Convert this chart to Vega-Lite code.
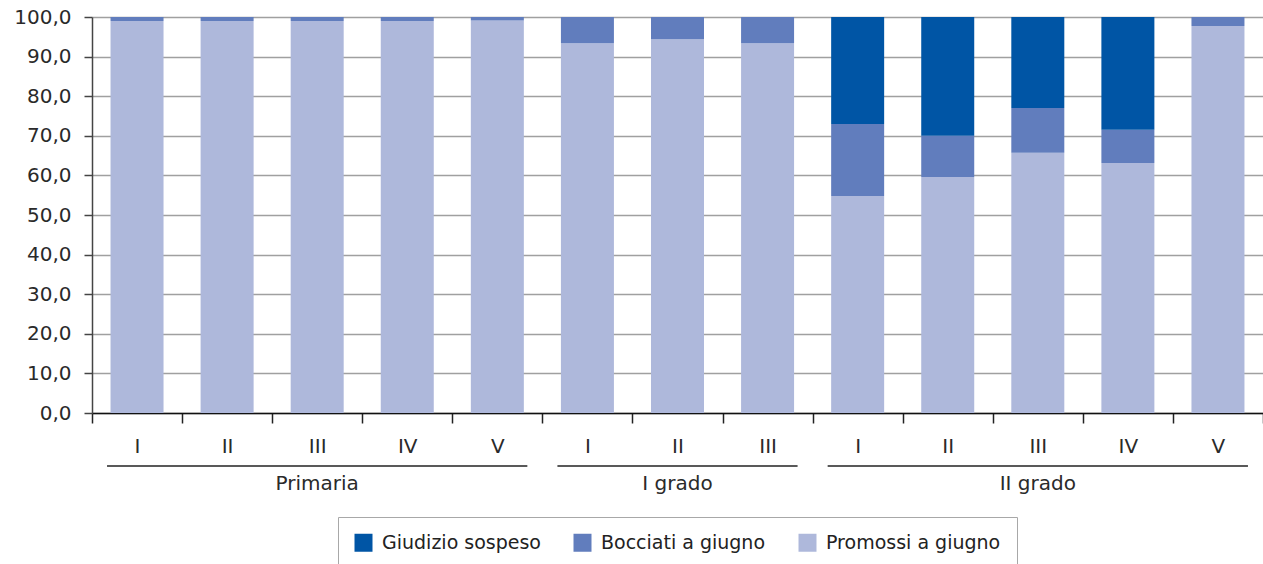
{
  "$schema": "https://vega.github.io/schema/vega-lite/v6.json",
  "autosize": "none",
  "width": 1171,
  "height": 396,
  "padding": {"left": 92, "top": 17, "right": 0, "bottom": 151},
  "background": "white",
  "config": {
    "font": "DejaVu Sans",
    "view": {"stroke": null},
    "axis": {"labelFont": "DejaVu Sans", "labelColor": "#2a2a2a"}
  },
  "datasets": {
    "esiti": [
      {"key": "P|I", "grado": "Primaria", "classe": "I", "esito": "Promossi a giugno", "valore": 99.0},
      {"key": "P|I", "grado": "Primaria", "classe": "I", "esito": "Bocciati a giugno", "valore": 1.0},
      {"key": "P|I", "grado": "Primaria", "classe": "I", "esito": "Giudizio sospeso", "valore": 0},
      {"key": "P|II", "grado": "Primaria", "classe": "II", "esito": "Promossi a giugno", "valore": 99.0},
      {"key": "P|II", "grado": "Primaria", "classe": "II", "esito": "Bocciati a giugno", "valore": 1.0},
      {"key": "P|II", "grado": "Primaria", "classe": "II", "esito": "Giudizio sospeso", "valore": 0},
      {"key": "P|III", "grado": "Primaria", "classe": "III", "esito": "Promossi a giugno", "valore": 99.0},
      {"key": "P|III", "grado": "Primaria", "classe": "III", "esito": "Bocciati a giugno", "valore": 1.0},
      {"key": "P|III", "grado": "Primaria", "classe": "III", "esito": "Giudizio sospeso", "valore": 0},
      {"key": "P|IV", "grado": "Primaria", "classe": "IV", "esito": "Promossi a giugno", "valore": 99.0},
      {"key": "P|IV", "grado": "Primaria", "classe": "IV", "esito": "Bocciati a giugno", "valore": 1.0},
      {"key": "P|IV", "grado": "Primaria", "classe": "IV", "esito": "Giudizio sospeso", "valore": 0},
      {"key": "P|V", "grado": "Primaria", "classe": "V", "esito": "Promossi a giugno", "valore": 99.1},
      {"key": "P|V", "grado": "Primaria", "classe": "V", "esito": "Bocciati a giugno", "valore": 0.9},
      {"key": "P|V", "grado": "Primaria", "classe": "V", "esito": "Giudizio sospeso", "valore": 0},
      {"key": "G1|I", "grado": "I grado", "classe": "I", "esito": "Promossi a giugno", "valore": 93.4},
      {"key": "G1|I", "grado": "I grado", "classe": "I", "esito": "Bocciati a giugno", "valore": 6.6},
      {"key": "G1|I", "grado": "I grado", "classe": "I", "esito": "Giudizio sospeso", "valore": 0},
      {"key": "G1|II", "grado": "I grado", "classe": "II", "esito": "Promossi a giugno", "valore": 94.4},
      {"key": "G1|II", "grado": "I grado", "classe": "II", "esito": "Bocciati a giugno", "valore": 5.6},
      {"key": "G1|II", "grado": "I grado", "classe": "II", "esito": "Giudizio sospeso", "valore": 0},
      {"key": "G1|III", "grado": "I grado", "classe": "III", "esito": "Promossi a giugno", "valore": 93.4},
      {"key": "G1|III", "grado": "I grado", "classe": "III", "esito": "Bocciati a giugno", "valore": 6.6},
      {"key": "G1|III", "grado": "I grado", "classe": "III", "esito": "Giudizio sospeso", "valore": 0},
      {"key": "G2|I", "grado": "II grado", "classe": "I", "esito": "Promossi a giugno", "valore": 54.8},
      {"key": "G2|I", "grado": "II grado", "classe": "I", "esito": "Bocciati a giugno", "valore": 18.2},
      {"key": "G2|I", "grado": "II grado", "classe": "I", "esito": "Giudizio sospeso", "valore": 27.0},
      {"key": "G2|II", "grado": "II grado", "classe": "II", "esito": "Promossi a giugno", "valore": 59.6},
      {"key": "G2|II", "grado": "II grado", "classe": "II", "esito": "Bocciati a giugno", "valore": 10.4},
      {"key": "G2|II", "grado": "II grado", "classe": "II", "esito": "Giudizio sospeso", "valore": 30.0},
      {"key": "G2|III", "grado": "II grado", "classe": "III", "esito": "Promossi a giugno", "valore": 65.7},
      {"key": "G2|III", "grado": "II grado", "classe": "III", "esito": "Bocciati a giugno", "valore": 11.3},
      {"key": "G2|III", "grado": "II grado", "classe": "III", "esito": "Giudizio sospeso", "valore": 23.0},
      {"key": "G2|IV", "grado": "II grado", "classe": "IV", "esito": "Promossi a giugno", "valore": 63.1},
      {"key": "G2|IV", "grado": "II grado", "classe": "IV", "esito": "Bocciati a giugno", "valore": 8.4},
      {"key": "G2|IV", "grado": "II grado", "classe": "IV", "esito": "Giudizio sospeso", "valore": 28.5},
      {"key": "G2|V", "grado": "II grado", "classe": "V", "esito": "Promossi a giugno", "valore": 97.7},
      {"key": "G2|V", "grado": "II grado", "classe": "V", "esito": "Bocciati a giugno", "valore": 2.3},
      {"key": "G2|V", "grado": "II grado", "classe": "V", "esito": "Giudizio sospeso", "valore": 0}
    ],
    "gradi": [
      {"grado": "Primaria", "first": "P|I", "last": "P|V"},
      {"grado": "I grado", "first": "G1|I", "last": "G1|III"},
      {"grado": "II grado", "first": "G2|I", "last": "G2|V"}
    ]
  },
  "resolve": {"axis": {"x": "independent", "y": "independent"}, "scale": {"y": "independent"}},
  "layer": [
    {
      "data": {"name": "esiti"},
      "transform": [
        {"calculate": "indexof(['Promossi a giugno', 'Bocciati a giugno', 'Giudizio sospeso'], datum.esito)", "as": "ordine"}
      ],
      "mark": {"type": "bar", "width": 53},
      "encoding": {
        "x": {
          "field": "key",
          "type": "nominal",
          "scale": {
            "domain": ["P|I", "P|II", "P|III", "P|IV", "P|V", "G1|I", "G1|II", "G1|III", "G2|I", "G2|II", "G2|III", "G2|IV", "G2|V"],
            "paddingInner": 0,
            "paddingOuter": 0
          },
          "axis": {
            "title": null,
            "orient": "bottom",
            "labelExpr": "split(datum.value, '|')[1]",
            "labelAngle": 0,
            "labelFontSize": 20,
            "labelPadding": 13,
            "tickBand": "extent",
            "tickSize": 10,
            "tickColor": "#222",
            "tickWidth": 1.5,
            "domainColor": "#111",
            "domainWidth": 1.5,
            "grid": false
          }
        },
        "y": {
          "field": "valore",
          "type": "quantitative",
          "stack": "zero",
          "scale": {"domain": [0, 100], "nice": false},
          "axis": {
            "title": null,
            "orient": "left",
            "values": [0, 10, 20, 30, 40, 50, 60, 70, 80, 90, 100],
            "labelOverlap": false,
            "labelExpr": "replace(format(datum.value, '.1f'), '.', ',')",
            "labelFontSize": 20,
            "labelPadding": 13,
            "tickSize": 8,
            "tickColor": "#444",
            "tickWidth": 1.5,
            "domainColor": "#444",
            "domainWidth": 1.5,
            "grid": true,
            "gridColor": "#a0a0a0",
            "gridWidth": 1.5
          }
        },
        "color": {
          "field": "esito",
          "type": "nominal",
          "scale": {
            "domain": ["Giudizio sospeso", "Bocciati a giugno", "Promossi a giugno"],
            "range": ["#0055a5", "#617dbd", "#aeb8db"]
          },
          "legend": {
            "title": null,
            "orient": "none",
            "legendX": 246,
            "legendY": 500,
            "direction": "horizontal",
            "symbolType": "square",
            "symbolSize": 324,
            "symbolStrokeWidth": 0,
            "labelFontSize": 19,
            "labelLimit": 0,
            "labelColor": "#222",
            "labelOffset": 9,
            "columnPadding": 32,
            "padding": 16,
            "strokeColor": "#a8a8a8"
          }
        },
        "order": {"field": "ordine", "type": "quantitative", "sort": "ascending"}
      }
    },
    {
      "data": {"name": "gradi"},
      "mark": {"type": "rule", "color": "#222", "strokeWidth": 1.5, "xOffset": -30, "x2Offset": 30},
      "encoding": {
        "x": {
          "field": "first",
          "type": "nominal",
          "axis": {
            "title": null,
            "orient": "bottom",
            "offset": 50,
            "labelExpr": "datum.value == 'P|III' ? 'Primaria' : datum.value == 'G1|II' ? 'I grado' : datum.value == 'G2|III' ? 'II grado' : ''",
            "labelAngle": 0,
            "labelFontSize": 20,
            "labelPadding": 10,
            "ticks": false,
            "domain": false,
            "grid": false
          }
        },
        "x2": {"field": "last"},
        "y": {
          "datum": -13.4,
          "type": "quantitative",
          "scale": {"domain": [0, 100], "nice": false},
          "axis": null
        }
      }
    }
  ]
}
